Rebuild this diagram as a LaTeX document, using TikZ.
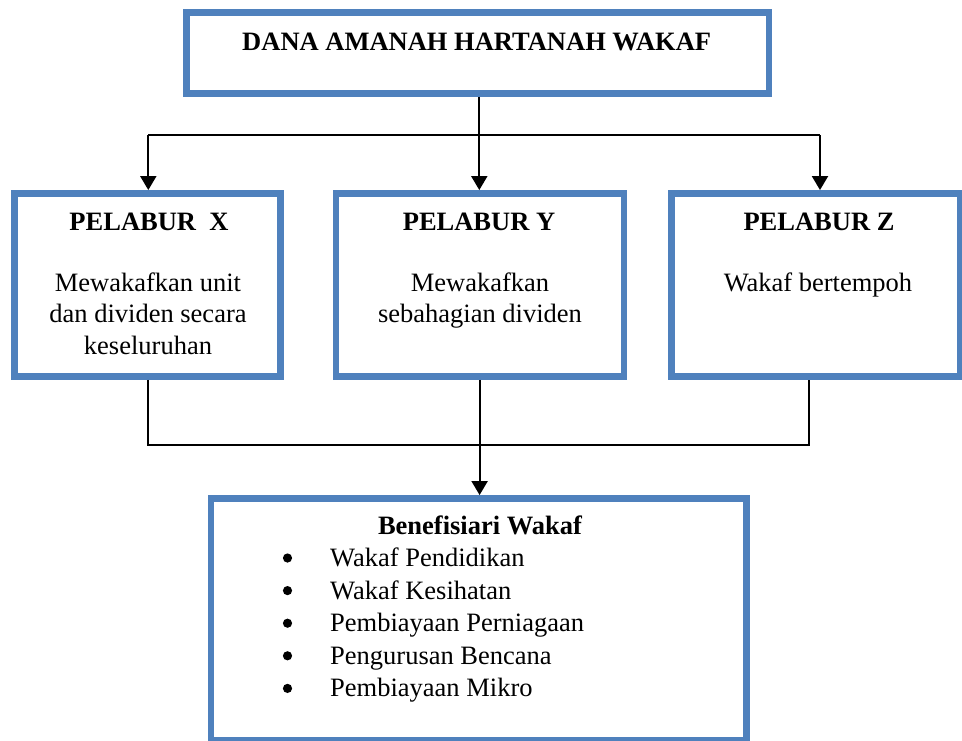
\documentclass[tikz,border=0pt]{standalone}
\usepackage{fontspec}
\setmainfont{Liberation Serif}
\usetikzlibrary{arrows.meta}
\definecolor{boxblue}{HTML}{4F81BD}
\begin{document}
\begin{tikzpicture}[x=1pt,y=-1pt,
  panel/.style={draw=boxblue, line width=6.5pt, inner sep=0pt, rectangle},
  lbl/.style={inner sep=0pt, font=\fontsize{26.5}{31.5}\selectfont},
  link/.style={line width=2pt, draw=black},
  tip/.style={-{Triangle[width=16pt,length=14pt]}}]
\useasboundingbox (0,0) rectangle (962,740);

% frames
\node[panel, minimum width=582.5pt, minimum height=80.8pt] (fund) at (477.75,53.1) {};
\node[panel, minimum width=266.2pt, minimum height=183.2pt] (px) at (147.4,284.9) {};
\node[panel, minimum width=287.7pt, minimum height=183.2pt] (py) at (479.9,284.9) {};
\node[panel, minimum width=289pt, minimum height=183.2pt] (pz) at (816,284.9) {};
\node[panel, minimum width=535.5pt, minimum height=242.2pt] (ben) at (478.55,619.4) {};

% texts
\node[lbl, anchor=base] (fundtitle) at (476.7,50.5) {\bfseries DANA AMANAH HARTANAH WAKAF};

\node[lbl, anchor=base] (pxhead) at (149,230) {\bfseries PELABUR\ \ X};
\node[lbl, anchor=base] (pxtext) at (148,291)
  {\begin{tabular}[t]{@{}c@{}}Mewakafkan unit\\dan dividen secara\\keseluruhan\end{tabular}};

\node[lbl, anchor=base] (pyhead) at (479,230) {\bfseries PELABUR Y};
\node[lbl, anchor=base] (pytext) at (480,291)
  {\begin{tabular}[t]{@{}c@{}}Mewakafkan\\sebahagian dividen\end{tabular}};

\node[lbl, anchor=base] (pzhead) at (819,230) {\bfseries PELABUR Z};
\node[lbl, anchor=base] (pztext) at (818,291) {Wakaf bertempoh};

\node[lbl, anchor=base] (bentitle) at (480,534.5) {\bfseries Benefisiari Wakaf};
\node[lbl, anchor=base west] (benlist) at (330,566.5)
  {\fontsize{26.5}{32.6}\selectfont
   \begin{tabular}[t]{@{}l@{}}
   Wakaf Pendidikan\\
   Wakaf Kesihatan\\
   Pembiayaan Perniagaan\\
   Pengurusan Bencana\\
   Pembiayaan Mikro
   \end{tabular}};
% list bullets
\foreach \k in {0,...,4}
  \fill (287.5,{566.5-8.5+32.6*\k}) circle (4.6pt);

% connectors from the fund to the three investors
\coordinate (hub) at (479.3,135);
\coordinate (lx) at (148.3,135);
\coordinate (rx) at (820,135);
\draw[link] (fund.south -| hub) -- (hub);
\draw[link] (lx) -- (rx);
\draw[link,tip] (lx) -- (lx |- px.north);
\draw[link,tip] (hub) -- (hub |- py.north);
\draw[link,tip] (rx) -- (rx |- pz.north);

% connectors from the investors to the beneficiaries
\coordinate (bl) at (148.3,445);
\coordinate (br) at (809.3,445);
\coordinate (bm) at (479.6,445);
\draw[link] (bl |- px.south) -- (bl) -- (br) -- (br |- pz.south);
\draw[link,tip] (bm |- py.south) -- (bm |- ben.north);
\end{tikzpicture}
\end{document}
